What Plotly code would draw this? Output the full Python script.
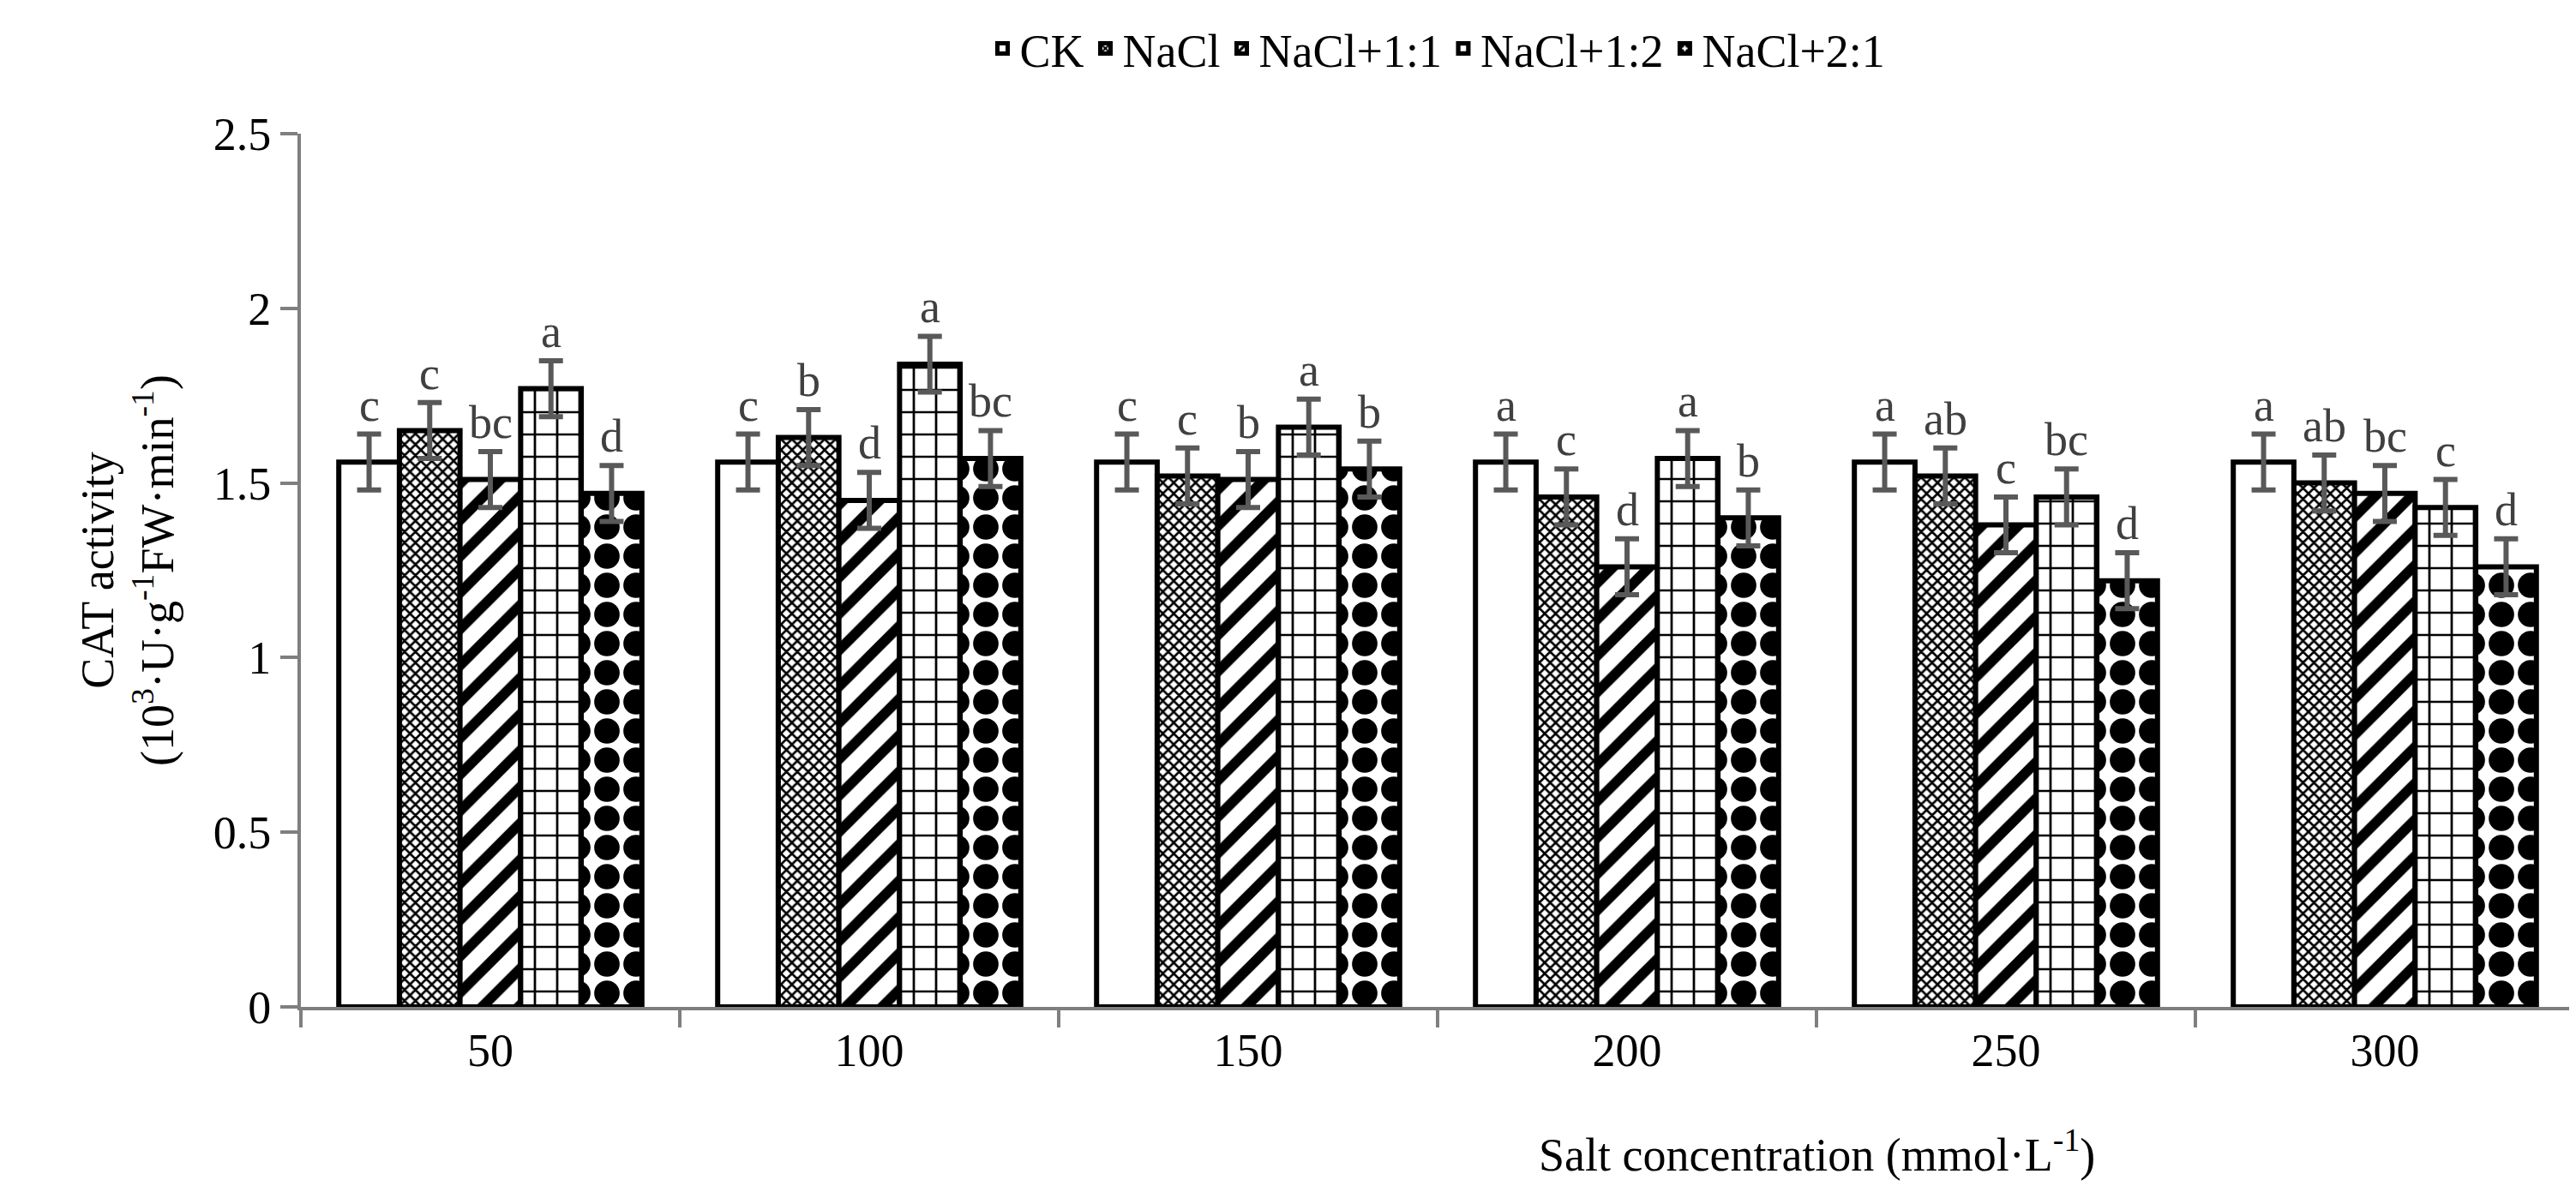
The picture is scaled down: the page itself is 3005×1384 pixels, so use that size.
import plotly.graph_objects as go

# data
groups = ['50', '100', '150', '200', '250', '300']
series = ['CK', 'NaCl', 'NaCl+1:1', 'NaCl+1:2', 'NaCl+2:1']
ck = [1.56, 1.56, 1.56, 1.56, 1.56, 1.56]
nacl = [1.65, 1.63, 1.52, 1.46, 1.52, 1.50]
nacl_11 = [1.51, 1.45, 1.51, 1.26, 1.38, 1.47]
nacl_12 = [1.77, 1.84, 1.66, 1.57, 1.46, 1.43]
nacl_21 = [1.47, 1.57, 1.54, 1.40, 1.22, 1.26]
err = [0.08, 0.08, 0.08, 0.08, 0.08, 0.08]
letters = [
    ['c', 'c', 'c', 'a', 'a', 'a'],
    ['c', 'b', 'c', 'c', 'ab', 'ab'],
    ['bc', 'd', 'b', 'd', 'c', 'bc'],
    ['a', 'a', 'a', 'a', 'bc', 'c'],
    ['d', 'bc', 'b', 'b', 'd', 'd'],
]
values = [ck, nacl, nacl_11, nacl_12, nacl_21]

patterns = [
    dict(shape=''),
    dict(shape='x', size=9, solidity=0.5, fgcolor='black', bgcolor='white', fgopacity=1),
    dict(shape='/', size=30, solidity=0.4, fgcolor='black', bgcolor='white', fgopacity=1),
    dict(shape='+', size=26, solidity=0.2, fgcolor='black', bgcolor='white', fgopacity=1),
    dict(shape='.', size=34, solidity=0.6, fgcolor='black', bgcolor='white', fgopacity=1),
]

font = 'Liberation Serif'
w = 0.16
x = list(range(len(groups)))

fig = go.Figure()
for j, name in enumerate(series):
    off = -0.4 + j * w
    fig.add_trace(go.Bar(
        x=x, y=values[j], name=name, width=w, offset=off,
        marker=dict(color='white', line=dict(color='black', width=6), pattern=patterns[j]),
        error_y=dict(type='data', array=err, color='#595959', thickness=6, width=14),
    ))
    for i in x:
        fig.add_annotation(x=i + off + w / 2, y=values[j][i] + err[i], text=letters[j][i],
                           showarrow=False, yanchor='bottom', yshift=2,
                           font=dict(family=font, size=54, color='#404040'))

# x axis title sits to the right, under the last groups
fig.add_annotation(x=0.79, y=-0.13, xref='paper', yref='paper', yanchor='top',
                   text='Salt concentration (mmol·L<sup>-1</sup>)', showarrow=False,
                   font=dict(family=font, size=54, color='black'))

fig.update_layout(
    barmode='overlay',
    width=3005, height=1384,
    plot_bgcolor='white', paper_bgcolor='white',
    margin=dict(l=343, r=10, t=148, b=217, autoexpand=False),
    font=dict(family=font, size=54, color='black'),
    legend=dict(orientation='h', x=0.5, xanchor='center', yref='container', y=0.995, yanchor='top',
                font=dict(size=54), tracegroupgap=0),
    xaxis=dict(range=[-0.5, 5.5], tickvals=x, ticktext=groups, showline=True,
               linecolor='#7f7f7f', linewidth=4, ticks='', showgrid=False,
               minor=dict(tickvals=[k - 0.5 for k in range(len(groups) + 1)], ticks='outside',
                          ticklen=20, tickwidth=4, tickcolor='#7f7f7f')),
    yaxis=dict(range=[0, 2.5], dtick=0.5, showline=True, linecolor='#7f7f7f', linewidth=4,
               ticks='outside', ticklen=20, tickwidth=4, tickcolor='#7f7f7f', showgrid=False,
               zeroline=False, tickformat='~g',
               title=dict(text='CAT activity<br>(10<sup>3</sup>·U·g<sup>-1</sup>FW·min<sup>-1</sup>)',
                          font=dict(size=54), standoff=30)),
)

fig.write_html('out.html')
